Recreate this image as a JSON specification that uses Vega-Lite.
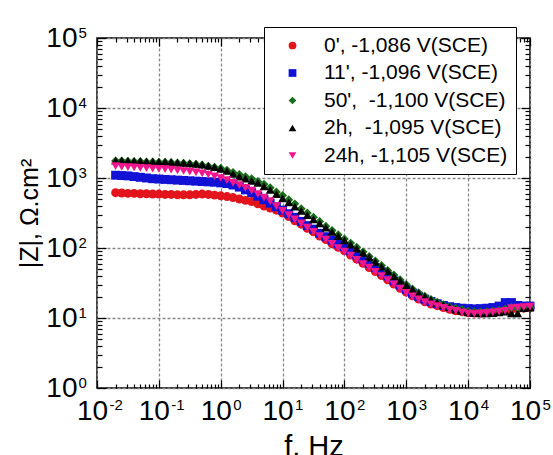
{
"$schema":"https://vega.github.io/schema/vega-lite/v6.json",
"width":433,"height":350,
"autosize":{"type":"none"},
"padding":{"left":97,"top":38,"right":23,"bottom":67},
"background":"white",
"config":{"view":{"stroke":"black","strokeWidth":1.5},"font":"Liberation Sans"},
"datasets":{"eis":[
{"f":0.02,"s":"t0","z":617},{"f":0.0251,"s":"t0","z":610},{"f":0.0316,"s":"t0","z":603},{"f":0.0398,"s":"t0","z":603},{"f":0.0501,"s":"t0","z":596},{"f":0.0631,"s":"t0","z":596},{"f":0.0794,"s":"t0","z":589},{"f":0.1,"s":"t0","z":589},{"f":0.126,"s":"t0","z":582},{"f":0.158,"s":"t0","z":582},{"f":0.2,"s":"t0","z":575},{"f":0.251,"s":"t0","z":575},{"f":0.316,"s":"t0","z":575},{"f":0.398,"s":"t0","z":582},{"f":0.501,"s":"t0","z":589},{"f":0.631,"s":"t0","z":582},{"f":0.794,"s":"t0","z":569},
{"f":1,"s":"t0","z":556},{"f":1.26,"s":"t0","z":543},{"f":1.58,"s":"t0","z":525},{"f":2,"s":"t0","z":501},{"f":2.51,"s":"t0","z":479},{"f":3.16,"s":"t0","z":462},{"f":3.98,"s":"t0","z":427},{"f":5.01,"s":"t0","z":398},{"f":6.31,"s":"t0","z":372},{"f":7.94,"s":"t0","z":347},
{"f":10,"s":"t0","z":316},{"f":12.6,"s":"t0","z":282},{"f":15.8,"s":"t0","z":245},{"f":20,"s":"t0","z":219},{"f":25.1,"s":"t0","z":191},{"f":31.6,"s":"t0","z":170},{"f":39.8,"s":"t0","z":148},{"f":50.1,"s":"t0","z":132},{"f":63.1,"s":"t0","z":115},{"f":79.4,"s":"t0","z":102},
{"f":100,"s":"t0","z":91.2},{"f":126,"s":"t0","z":79.4},{"f":158,"s":"t0","z":69.2},{"f":200,"s":"t0","z":60.3},{"f":251,"s":"t0","z":52.5},{"f":316,"s":"t0","z":46.2},{"f":398,"s":"t0","z":40.3},{"f":501,"s":"t0","z":35.1},{"f":631,"s":"t0","z":30.5},{"f":794,"s":"t0","z":26.6},
{"f":1000,"s":"t0","z":23.4},{"f":1259,"s":"t0","z":20.7},{"f":1585,"s":"t0","z":18.6},{"f":1995,"s":"t0","z":17.0},{"f":2512,"s":"t0","z":15.8},{"f":3162,"s":"t0","z":15.0},{"f":3981,"s":"t0","z":14.1},{"f":5012,"s":"t0","z":13.3},{"f":6310,"s":"t0","z":12.7},{"f":7943,"s":"t0","z":12.3},
{"f":10000,"s":"t0","z":11.9},{"f":12590,"s":"t0","z":11.75},{"f":15850,"s":"t0","z":11.75},{"f":19950,"s":"t0","z":11.9},{"f":25120,"s":"t0","z":12.2},{"f":31620,"s":"t0","z":12.4},{"f":39810,"s":"t0","z":12.7},{"f":50120,"s":"t0","z":13.2},{"f":63100,"s":"t0","z":13.5},{"f":79430,"s":"t0","z":13.8},{"f":100000,"s":"t0","z":14.1},

{"f":0.02,"s":"t11","z":1096},{"f":0.0251,"s":"t11","z":1084},{"f":0.0316,"s":"t11","z":1072},{"f":0.0398,"s":"t11","z":1047},{"f":0.0501,"s":"t11","z":1023},{"f":0.0631,"s":"t11","z":1000},{"f":0.0794,"s":"t11","z":977},{"f":0.1,"s":"t11","z":966},{"f":0.126,"s":"t11","z":955},{"f":0.158,"s":"t11","z":944},{"f":0.2,"s":"t11","z":933},{"f":0.251,"s":"t11","z":923},{"f":0.316,"s":"t11","z":912},{"f":0.398,"s":"t11","z":902},{"f":0.501,"s":"t11","z":891},{"f":0.631,"s":"t11","z":881},{"f":0.794,"s":"t11","z":871},
{"f":1,"s":"t11","z":851},{"f":1.26,"s":"t11","z":832},{"f":1.58,"s":"t11","z":794},{"f":2,"s":"t11","z":741},{"f":2.51,"s":"t11","z":676},{"f":3.16,"s":"t11","z":617},{"f":3.98,"s":"t11","z":550},{"f":5.01,"s":"t11","z":490},{"f":6.31,"s":"t11","z":437},{"f":7.94,"s":"t11","z":389},
{"f":10,"s":"t11","z":347},{"f":12.6,"s":"t11","z":309},{"f":15.8,"s":"t11","z":275},{"f":20,"s":"t11","z":240},{"f":25.1,"s":"t11","z":209},{"f":31.6,"s":"t11","z":186},{"f":39.8,"s":"t11","z":162},{"f":50.1,"s":"t11","z":145},{"f":63.1,"s":"t11","z":129},{"f":79.4,"s":"t11","z":115},
{"f":100,"s":"t11","z":105},{"f":126,"s":"t11","z":91.2},{"f":158,"s":"t11","z":79.4},{"f":200,"s":"t11","z":69.2},{"f":251,"s":"t11","z":60.3},{"f":316,"s":"t11","z":52.5},{"f":398,"s":"t11","z":45.7},{"f":501,"s":"t11","z":39.8},{"f":631,"s":"t11","z":33.9},{"f":794,"s":"t11","z":29.5},
{"f":1000,"s":"t11","z":25.7},{"f":1259,"s":"t11","z":22.6},{"f":1585,"s":"t11","z":20.4},{"f":1995,"s":"t11","z":18.6},{"f":2512,"s":"t11","z":17.2},{"f":3162,"s":"t11","z":16.0},{"f":3981,"s":"t11","z":15.1},{"f":5012,"s":"t11","z":14.5},{"f":6310,"s":"t11","z":14.1},{"f":7943,"s":"t11","z":13.8},
{"f":10000,"s":"t11","z":13.6},{"f":12590,"s":"t11","z":13.5},{"f":15850,"s":"t11","z":13.6},{"f":19950,"s":"t11","z":13.8},{"f":25120,"s":"t11","z":14.1},{"f":31620,"s":"t11","z":14.8},{"f":39810,"s":"t11","z":16.6},{"f":50120,"s":"t11","z":16.6},{"f":63100,"s":"t11","z":15.1},{"f":79430,"s":"t11","z":14.8},{"f":100000,"s":"t11","z":14.8},

{"f":0.02,"s":"t50","z":1758},{"f":0.0251,"s":"t50","z":1758},{"f":0.0316,"s":"t50","z":1738},{"f":0.0398,"s":"t50","z":1718},{"f":0.0501,"s":"t50","z":1718},{"f":0.0631,"s":"t50","z":1698},{"f":0.0794,"s":"t50","z":1698},{"f":0.1,"s":"t50","z":1679},{"f":0.126,"s":"t50","z":1679},{"f":0.158,"s":"t50","z":1660},{"f":0.2,"s":"t50","z":1641},{"f":0.251,"s":"t50","z":1622},{"f":0.316,"s":"t50","z":1603},{"f":0.398,"s":"t50","z":1567},{"f":0.501,"s":"t50","z":1531},{"f":0.631,"s":"t50","z":1479},{"f":0.794,"s":"t50","z":1429},
{"f":1,"s":"t50","z":1380},{"f":1.26,"s":"t50","z":1288},{"f":1.58,"s":"t50","z":1202},{"f":2,"s":"t50","z":1122},{"f":2.51,"s":"t50","z":1047},{"f":3.16,"s":"t50","z":977},{"f":3.98,"s":"t50","z":891},{"f":5.01,"s":"t50","z":813},{"f":6.31,"s":"t50","z":724},{"f":7.94,"s":"t50","z":631},
{"f":10,"s":"t50","z":562},{"f":12.6,"s":"t50","z":490},{"f":15.8,"s":"t50","z":427},{"f":20,"s":"t50","z":363},{"f":25.1,"s":"t50","z":316},{"f":31.6,"s":"t50","z":275},{"f":39.8,"s":"t50","z":240},{"f":50.1,"s":"t50","z":204},{"f":63.1,"s":"t50","z":178},{"f":79.4,"s":"t50","z":155},
{"f":100,"s":"t50","z":135},{"f":126,"s":"t50","z":117.5},{"f":158,"s":"t50","z":102.3},{"f":200,"s":"t50","z":88.1},{"f":251,"s":"t50","z":75.9},{"f":316,"s":"t50","z":65.3},{"f":398,"s":"t50","z":56.2},{"f":501,"s":"t50","z":47.9},{"f":631,"s":"t50","z":41.2},{"f":794,"s":"t50","z":35.1},
{"f":1000,"s":"t50","z":30.2},{"f":1259,"s":"t50","z":26.0},{"f":1585,"s":"t50","z":22.9},{"f":1995,"s":"t50","z":20.4},{"f":2512,"s":"t50","z":18.4},{"f":3162,"s":"t50","z":16.8},{"f":3981,"s":"t50","z":15.5},{"f":5012,"s":"t50","z":14.5},{"f":6310,"s":"t50","z":13.8},{"f":7943,"s":"t50","z":13.2},
{"f":10000,"s":"t50","z":12.6},{"f":12590,"s":"t50","z":12.3},{"f":15850,"s":"t50","z":12.2},{"f":19950,"s":"t50","z":12.3},{"f":25120,"s":"t50","z":12.6},{"f":31620,"s":"t50","z":12.9},{"f":39810,"s":"t50","z":13.5},{"f":50120,"s":"t50","z":14.1},{"f":63100,"s":"t50","z":13.8},{"f":79430,"s":"t50","z":13.8},{"f":100000,"s":"t50","z":14.1},

{"f":0.02,"s":"t2h","z":1778},{"f":0.0251,"s":"t2h","z":1778},{"f":0.0316,"s":"t2h","z":1758},{"f":0.0398,"s":"t2h","z":1738},{"f":0.0501,"s":"t2h","z":1738},{"f":0.0631,"s":"t2h","z":1718},{"f":0.0794,"s":"t2h","z":1718},{"f":0.1,"s":"t2h","z":1698},{"f":0.126,"s":"t2h","z":1698},{"f":0.158,"s":"t2h","z":1679},{"f":0.2,"s":"t2h","z":1660},{"f":0.251,"s":"t2h","z":1641},{"f":0.316,"s":"t2h","z":1622},{"f":0.398,"s":"t2h","z":1585},{"f":0.501,"s":"t2h","z":1549},{"f":0.631,"s":"t2h","z":1496},{"f":0.794,"s":"t2h","z":1429},
{"f":1,"s":"t2h","z":1349},{"f":1.26,"s":"t2h","z":1259},{"f":1.58,"s":"t2h","z":1148},{"f":2,"s":"t2h","z":1047},{"f":2.51,"s":"t2h","z":977},{"f":3.16,"s":"t2h","z":912},{"f":3.98,"s":"t2h","z":851},{"f":5.01,"s":"t2h","z":759},{"f":6.31,"s":"t2h","z":676},{"f":7.94,"s":"t2h","z":589},
{"f":10,"s":"t2h","z":513},{"f":12.6,"s":"t2h","z":447},{"f":15.8,"s":"t2h","z":389},{"f":20,"s":"t2h","z":339},{"f":25.1,"s":"t2h","z":295},{"f":31.6,"s":"t2h","z":257},{"f":39.8,"s":"t2h","z":224},{"f":50.1,"s":"t2h","z":195},{"f":63.1,"s":"t2h","z":170},{"f":79.4,"s":"t2h","z":148},
{"f":100,"s":"t2h","z":129},{"f":126,"s":"t2h","z":112},{"f":158,"s":"t2h","z":97.7},{"f":200,"s":"t2h","z":85.1},{"f":251,"s":"t2h","z":73.3},{"f":316,"s":"t2h","z":63.1},{"f":398,"s":"t2h","z":54.3},{"f":501,"s":"t2h","z":46.8},{"f":631,"s":"t2h","z":39.8},{"f":794,"s":"t2h","z":34.3},
{"f":1000,"s":"t2h","z":29.5},{"f":1259,"s":"t2h","z":25.7},{"f":1585,"s":"t2h","z":22.6},{"f":1995,"s":"t2h","z":20.2},{"f":2512,"s":"t2h","z":18.2},{"f":3162,"s":"t2h","z":16.6},{"f":3981,"s":"t2h","z":15.3},{"f":5012,"s":"t2h","z":14.3},{"f":6310,"s":"t2h","z":13.2},{"f":7943,"s":"t2h","z":12.6},
{"f":10000,"s":"t2h","z":12.0},{"f":12590,"s":"t2h","z":11.75},{"f":15850,"s":"t2h","z":11.6},{"f":19950,"s":"t2h","z":11.6},{"f":25120,"s":"t2h","z":11.75},{"f":31620,"s":"t2h","z":12.0},{"f":39810,"s":"t2h","z":12.3},{"f":50120,"s":"t2h","z":11.6},{"f":63100,"s":"t2h","z":11.6},{"f":79430,"s":"t2h","z":13.8},{"f":100000,"s":"t2h","z":14.1},

{"f":0.02,"s":"t24h","z":1479},{"f":0.0251,"s":"t24h","z":1445},{"f":0.0316,"s":"t24h","z":1429},{"f":0.0398,"s":"t24h","z":1413},{"f":0.0501,"s":"t24h","z":1396},{"f":0.0631,"s":"t24h","z":1380},{"f":0.0794,"s":"t24h","z":1365},{"f":0.1,"s":"t24h","z":1349},{"f":0.126,"s":"t24h","z":1334},{"f":0.158,"s":"t24h","z":1318},{"f":0.2,"s":"t24h","z":1288},{"f":0.251,"s":"t24h","z":1259},{"f":0.316,"s":"t24h","z":1230},{"f":0.398,"s":"t24h","z":1202},{"f":0.501,"s":"t24h","z":1161},{"f":0.631,"s":"t24h","z":1122},{"f":0.794,"s":"t24h","z":1059},
{"f":1,"s":"t24h","z":1000},{"f":1.26,"s":"t24h","z":933},{"f":1.58,"s":"t24h","z":851},{"f":2,"s":"t24h","z":794},{"f":2.51,"s":"t24h","z":724},{"f":3.16,"s":"t24h","z":661},{"f":3.98,"s":"t24h","z":589},{"f":5.01,"s":"t24h","z":525},{"f":6.31,"s":"t24h","z":468},{"f":7.94,"s":"t24h","z":398},
{"f":10,"s":"t24h","z":339},{"f":12.6,"s":"t24h","z":295},{"f":15.8,"s":"t24h","z":257},{"f":20,"s":"t24h","z":224},{"f":25.1,"s":"t24h","z":195},{"f":31.6,"s":"t24h","z":170},{"f":39.8,"s":"t24h","z":148},{"f":50.1,"s":"t24h","z":132},{"f":63.1,"s":"t24h","z":115},{"f":79.4,"s":"t24h","z":100},
{"f":100,"s":"t24h","z":89.1},{"f":126,"s":"t24h","z":77.6},{"f":158,"s":"t24h","z":67.6},{"f":200,"s":"t24h","z":58.9},{"f":251,"s":"t24h","z":52.5},{"f":316,"s":"t24h","z":45.7},{"f":398,"s":"t24h","z":39.8},{"f":501,"s":"t24h","z":34.7},{"f":631,"s":"t24h","z":30.2},{"f":794,"s":"t24h","z":26.3},
{"f":1000,"s":"t24h","z":22.9},{"f":1259,"s":"t24h","z":20.4},{"f":1585,"s":"t24h","z":18.4},{"f":1995,"s":"t24h","z":16.8},{"f":2512,"s":"t24h","z":15.7},{"f":3162,"s":"t24h","z":14.8},{"f":3981,"s":"t24h","z":14.0},{"f":5012,"s":"t24h","z":13.2},{"f":6310,"s":"t24h","z":12.6},{"f":7943,"s":"t24h","z":12.0},
{"f":10000,"s":"t24h","z":11.6},{"f":12590,"s":"t24h","z":11.5},{"f":15850,"s":"t24h","z":11.6},{"f":19950,"s":"t24h","z":11.75},{"f":25120,"s":"t24h","z":12.0},{"f":31620,"s":"t24h","z":12.3},{"f":39810,"s":"t24h","z":12.6},{"f":50120,"s":"t24h","z":13.8},{"f":63100,"s":"t24h","z":14.1},{"f":79430,"s":"t24h","z":14.3},{"f":100000,"s":"t24h","z":14.5}
]},
"data":{"name":"eis"},
"layer":[
{"mark":{"type":"point","filled":true,"size":80,"opacity":1,"strokeWidth":0},
"encoding":{
"x":{"field":"f","type":"quantitative","scale":{"type":"log","domain":[0.01,100000],"nice":false},
"axis":{"orient":"bottom","values":[0.01,0.02,0.03,0.04,0.05,0.06,0.07,0.08,0.09,0.1,0.2,0.3,0.4,0.5,0.6,0.7,0.8,0.9,1,2,3,4,5,6,7,8,9,10,20,30,40,50,60,70,80,90,100,200,300,400,500,600,700,800,900,1000,2000,3000,4000,5000,6000,7000,8000,9000,10000,20000,30000,40000,50000,60000,70000,80000,90000,100000],
"labelExpr":"abs(log(datum.value)/LN10 - round(log(datum.value)/LN10)) < 0.001 ? '10' : ''",
"grid":true,"gridColor":"#888888","gridDash":[3,2],"gridWidth":1.3,
"gridOpacity":{"condition":{"test":"abs(log(datum.value)/LN10 - round(log(datum.value)/LN10)) < 0.001","value":1},"value":0},
"tickSize":{"condition":{"test":"abs(log(datum.value)/LN10 - round(log(datum.value)/LN10)) < 0.001","value":-8},"value":-4},
"tickColor":"black","tickWidth":1.2,"domain":false,
"labelFont":"Liberation Sans","labelFontSize":28,"labelColor":"black","labelPadding":17,"labelOffset":-5,"labelAlign":"center","labelBaseline":"top","labelOverlap":false,"labelFlush":false,
"title":"f, Hz","titleFont":"Liberation Sans","titleFontSize":29,"titleFontWeight":"normal","titleColor":"black","titlePadding":3}},
"y":{"field":"z","type":"quantitative","scale":{"type":"log","domain":[1,100000],"nice":false},
"axis":{"orient":"left","values":[1,2,3,4,5,6,7,8,9,10,20,30,40,50,60,70,80,90,100,200,300,400,500,600,700,800,900,1000,2000,3000,4000,5000,6000,7000,8000,9000,10000,20000,30000,40000,50000,60000,70000,80000,90000,100000],
"labelExpr":"abs(log(datum.value)/LN10 - round(log(datum.value)/LN10)) < 0.001 ? '10' : ''",
"grid":true,"gridColor":"#888888","gridDash":[3,2],"gridWidth":1.3,
"gridOpacity":{"condition":{"test":"abs(log(datum.value)/LN10 - round(log(datum.value)/LN10)) < 0.001","value":1},"value":0},
"tickSize":{"condition":{"test":"abs(log(datum.value)/LN10 - round(log(datum.value)/LN10)) < 0.001","value":-9},"value":-5},
"tickColor":"black","tickWidth":1.2,"domain":false,
"labelFont":"Liberation Sans","labelFontSize":28,"labelColor":"black","labelPadding":29,"labelAlign":"right","labelBaseline":"middle","labelOverlap":false,"labelFlush":false,
"title":"|Z|, Ω.cm²","titleFont":"Liberation Sans","titleFontSize":25,"titleFontWeight":"normal","titleColor":"black","titlePadding":3}},
"color":{"field":"s","type":"nominal","scale":{"domain":["t0","t11","t50","t2h","t24h"],"range":["#e3141c","#1212d6","#1b6e1b","#000000","#f0168c"]},
"legend":{"orient":"none","legendX":167,"legendY":-11,"title":null,"padding":8,"strokeColor":"black","fillColor":"white",
"labelFont":"Liberation Sans","labelFontSize":21,"labelLimit":0,"symbolSize":60,"symbolStrokeWidth":0,"symbolOffset":10,"labelOffset":21,"rowPadding":5.5,
"labelExpr":"datum.label == 't0' ? \"\u00a0\u00a00', -1,086 V(SCE)\" : datum.label == 't11' ? \"11', -1,096 V(SCE)\" : datum.label == 't50' ? \"50',\u00a0 -1,100 V(SCE)\" : datum.label == 't2h' ? \"2h,\u00a0 -1,095 V(SCE)\" : \"24h, -1,105 V(SCE)\"",
"encode":{"labels":{"update":{"fill":{"scale":"color","field":"value"}}},"legend":{"update":{"strokeWidth":{"value":1.5}}}}}},
"shape":{"field":"s","type":"nominal","scale":{"domain":["t0","t11","t50","t2h","t24h"],"range":["circle","square","diamond","triangle-up","triangle-down"]}}
}},
{"mark":{"type":"point","opacity":0},
"encoding":{
"x":{"field":"f","type":"quantitative","axis":{"orient":"top","values":[0.01,0.02,0.03,0.04,0.05,0.06,0.07,0.08,0.09,0.1,0.2,0.3,0.4,0.5,0.6,0.7,0.8,0.9,1,2,3,4,5,6,7,8,9,10,20,30,40,50,60,70,80,90,100,200,300,400,500,600,700,800,900,1000,2000,3000,4000,5000,6000,7000,8000,9000,10000,20000,30000,40000,50000,60000,70000,80000,90000,100000],
"labelExpr":"abs(log(datum.value)/LN10 - round(log(datum.value)/LN10)) < 0.001 ? ['-2','-1','0','1','2','3','4','5'][round(log(datum.value)/LN10)+2] : ''",
"labelFont":"Liberation Sans","labelFontSize":15,"labelColor":"black","labelAlign":"left","labelBaseline":"top","labelOffset":12,"labelPadding":-351,"labelOverlap":false,"labelFlush":false,
"grid":false,"domain":false,"title":null,"tickColor":"black","tickWidth":1.2,
"tickSize":{"condition":{"test":"abs(log(datum.value)/LN10 - round(log(datum.value)/LN10)) < 0.001","value":-8},"value":-4}}},
"y":{"field":"z","type":"quantitative","axis":{"orient":"right","values":[1,2,3,4,5,6,7,8,9,10,20,30,40,50,60,70,80,90,100,200,300,400,500,600,700,800,900,1000,2000,3000,4000,5000,6000,7000,8000,9000,10000,20000,30000,40000,50000,60000,70000,80000,90000,100000],
"labelExpr":"abs(log(datum.value)/LN10 - round(log(datum.value)/LN10)) < 0.001 ? ['-2','-1','0','1','2','3','4','5'][round(log(datum.value)/LN10)+2] : ''",
"labelFont":"Liberation Sans","labelFontSize":15,"labelColor":"black","labelAlign":"left","labelBaseline":"middle","labelOffset":-6,"labelPadding":-443,"labelOverlap":false,"labelFlush":false,
"grid":false,"domain":false,"title":null,"tickColor":"black","tickWidth":1.2,
"tickSize":{"condition":{"test":"abs(log(datum.value)/LN10 - round(log(datum.value)/LN10)) < 0.001","value":-9},"value":-5}}}
}}
],
"resolve":{"axis":{"x":"independent","y":"independent"}}
}
